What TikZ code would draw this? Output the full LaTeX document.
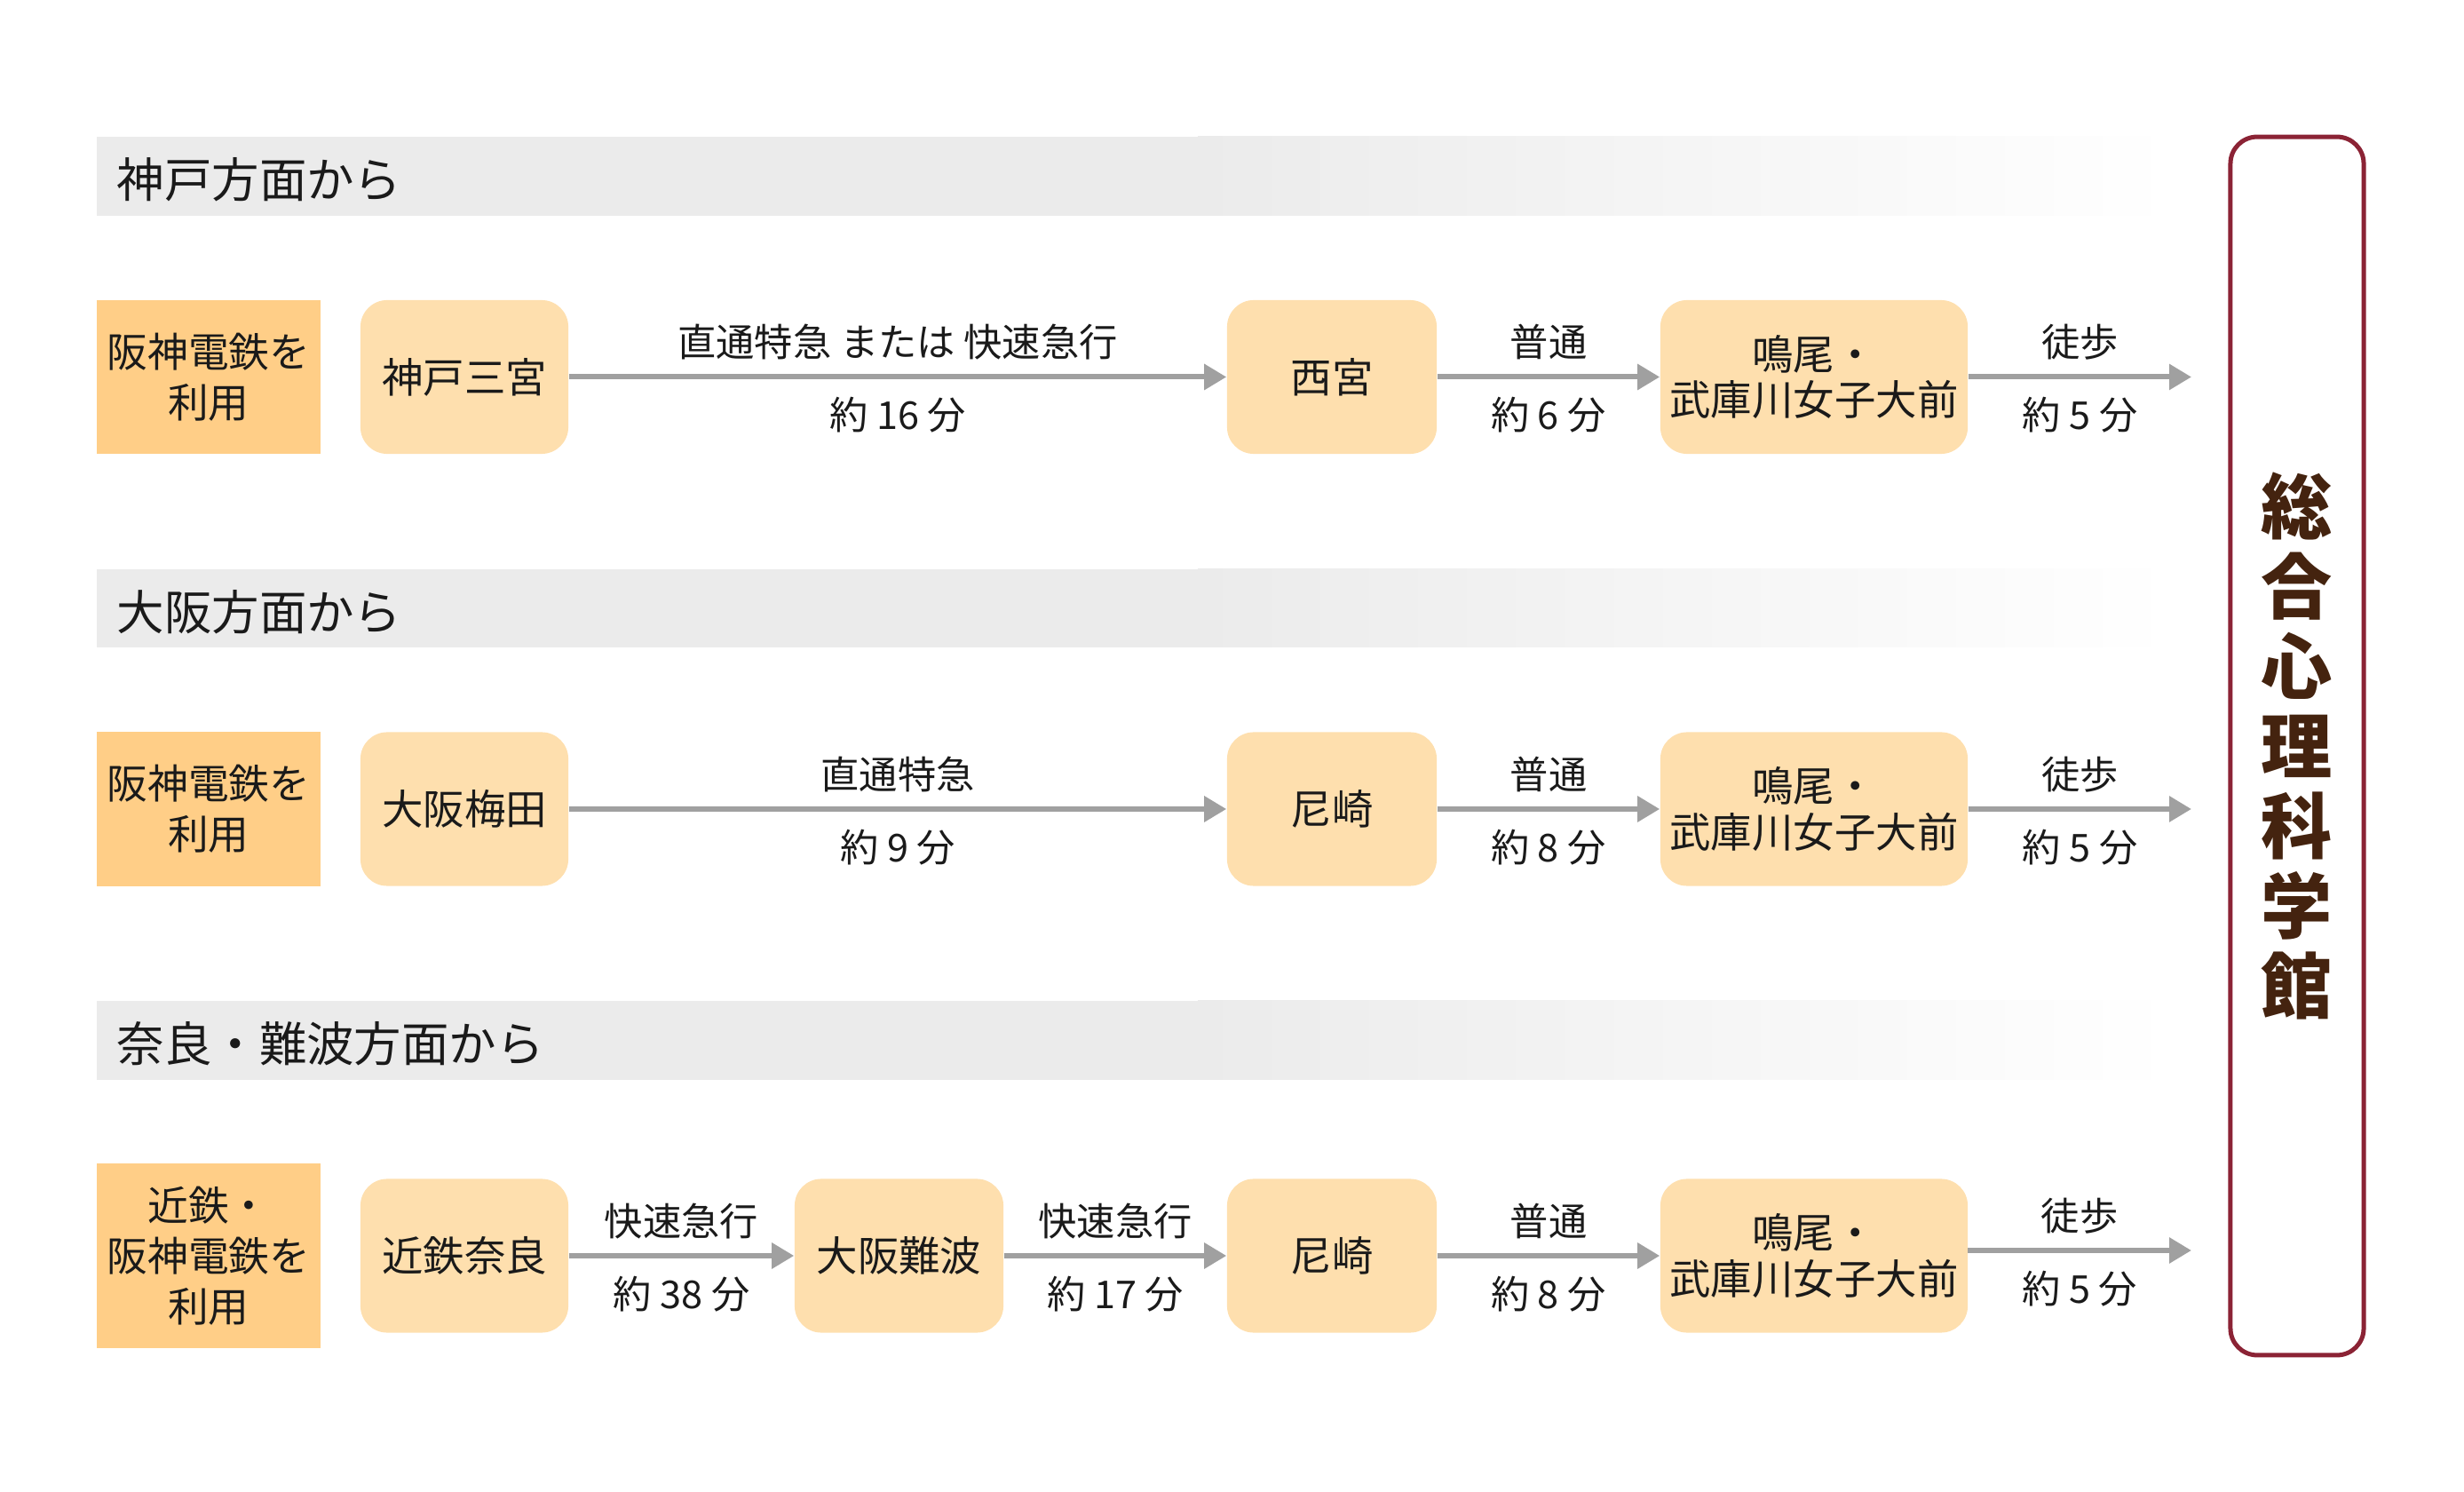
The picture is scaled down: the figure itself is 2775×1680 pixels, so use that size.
\documentclass[tikz,border=0pt]{standalone}
\usepackage{fontspec}
\setmainfont{Noto Sans CJK JP}
\usetikzlibrary{arrows.meta}
\definecolor{hdr}{RGB}{235,235,235}
\definecolor{orng}{RGB}{255,206,135}
\definecolor{stnc}{RGB}{254,223,174}
\definecolor{arrc}{RGB}{160,160,160}
\definecolor{brd}{RGB}{139,35,53}
\definecolor{ttl}{RGB}{68,35,15}
\definecolor{ink}{RGB}{26,26,26}
\begin{document}
\begin{tikzpicture}[x=0.01cm,y=-0.01cm,
  usebox/.style={fill=orng, minimum width=2.52cm, inner sep=0pt, align=center, text=ink,
    font=\fontsize{13pt}{16.2pt}\selectfont},
  stn/.style={fill=stnc, rounded corners=0.3cm, minimum height=1.73cm, inner sep=0pt, align=center, text=ink,
    font=\fontsize{13.2pt}{14.6pt}\selectfont},
  lbl/.style={text=ink, inner sep=0pt, font=\fontsize{12.3pt}{14pt}\selectfont},
  arr/.style={draw=arrc, line width=0.06cm, -{Triangle[length=0.25cm,width=0.28cm]}},
  hdrtxt/.style={anchor=west, text=ink, inner sep=0pt, font=\fontsize{15.2pt}{16pt}\selectfont},
]
\useasboundingbox (0,0) rectangle (2775,1680);

% header bands
\foreach \yt/\yb/\nm in {154/243/h1, 641/729/h2, 1127/1216/h3}{
  \fill[hdr] (109,\yt) rectangle (1350,\yb);
  \shade[left color=hdr, right color=white] (1349,\yt) rectangle (2450,\yb);
}
\node[hdrtxt] (ht1) at (131,202) {神戸方面から};
\node[hdrtxt] (ht2) at (131,689) {大阪方面から};
\node[hdrtxt] (ht3) at (131,1175) {奈良・難波方面から};

% ---------- row 1 ----------
\node[usebox, minimum height=1.73cm] (o1) at (235,424.5) {阪神電鉄を\\利用};
\node[stn, minimum width=2.34cm] (a1) at (523,424.5) {神戸三宮};
\node[stn, minimum width=2.36cm] (c1) at (1500,424.5) {西宮};
\node[stn, minimum width=3.46cm] (d1) at (2043,424.5) {鳴尾・\\武庫川女子大前};
\coordinate (e1) at (2468,424.5);
\draw[arr] (a1.east) -- (c1.west)
  node[lbl, midway, yshift=0.39cm] (l1a) {直通特急 または 快速急行}
  node[lbl, midway, yshift=-0.43cm] (l1b) {約 16 分};
\draw[arr] (c1.east) -- (d1.west)
  node[lbl, midway, yshift=0.39cm] (l1c) {普通}
  node[lbl, midway, yshift=-0.43cm] (l1d) {約 6 分};
\draw[arr] (d1.east) -- (e1)
  node[lbl, midway, yshift=0.39cm] (l1e) {徒歩}
  node[lbl, midway, yshift=-0.43cm] (l1f) {約 5 分};

% ---------- row 2 ----------
\node[usebox, minimum height=1.74cm] (o2) at (235,911) {阪神電鉄を\\利用};
\node[stn, minimum width=2.34cm] (a2) at (523,911) {大阪梅田};
\node[stn, minimum width=2.36cm] (c2) at (1500,911) {尼崎};
\node[stn, minimum width=3.46cm] (d2) at (2043,911) {鳴尾・\\武庫川女子大前};
\coordinate (e2) at (2468,911);
\draw[arr] (a2.east) -- (c2.west)
  node[lbl, midway, yshift=0.39cm] (l2a) {直通特急}
  node[lbl, midway, yshift=-0.43cm] (l2b) {約 9 分};
\draw[arr] (c2.east) -- (d2.west)
  node[lbl, midway, yshift=0.39cm] (l2c) {普通}
  node[lbl, midway, yshift=-0.43cm] (l2d) {約 8 分};
\draw[arr] (d2.east) -- (e2)
  node[lbl, midway, yshift=0.39cm] (l2e) {徒歩}
  node[lbl, midway, yshift=-0.43cm] (l2f) {約 5 分};

% ---------- row 3 ----------
\node[usebox, minimum height=2.08cm] (o3) at (235,1414) {近鉄・\\阪神電鉄を\\利用};
\node[stn, minimum width=2.34cm] (a3) at (523,1414) {近鉄奈良};
\node[stn, minimum width=2.35cm] (b3) at (1012.5,1414) {大阪難波};
\node[stn, minimum width=2.36cm] (c3) at (1500,1414) {尼崎};
\node[stn, minimum width=3.46cm] (d3) at (2043,1414) {鳴尾・\\武庫川女子大前};
\coordinate (s3) at (2216,1408);
\coordinate (e3) at (2468,1408);
\draw[arr] (a3.east) -- (b3.west)
  node[lbl, midway, yshift=0.39cm] (l3a) {快速急行}
  node[lbl, midway, yshift=-0.43cm] (l3b) {約 38 分};
\draw[arr] (b3.east) -- (c3.west)
  node[lbl, midway, yshift=0.39cm] (l3c) {快速急行}
  node[lbl, midway, yshift=-0.43cm] (l3d) {約 17 分};
\draw[arr] (c3.east) -- (d3.west)
  node[lbl, midway, yshift=0.39cm] (l3e) {普通}
  node[lbl, midway, yshift=-0.43cm] (l3f) {約 8 分};
\draw[arr] (s3) -- (e3)
  node[lbl, midway, yshift=0.39cm] (l3g) {徒歩}
  node[lbl, midway, yshift=-0.43cm] (l3h) {約 5 分};

% ---------- destination ----------
\node[draw=brd, line width=0.05cm, rounded corners=0.3cm, minimum width=1.5cm, minimum height=13.71cm,
  inner sep=0pt] (dest) at (2587,840) {};
\node[align=center, inner sep=0pt, text=ttl, font=\fontsize{22.8pt}{25.6pt}\selectfont\bfseries]
  (title) at (dest.center) {総\\合\\心\\理\\科\\学\\館};
\end{tikzpicture}
\end{document}
